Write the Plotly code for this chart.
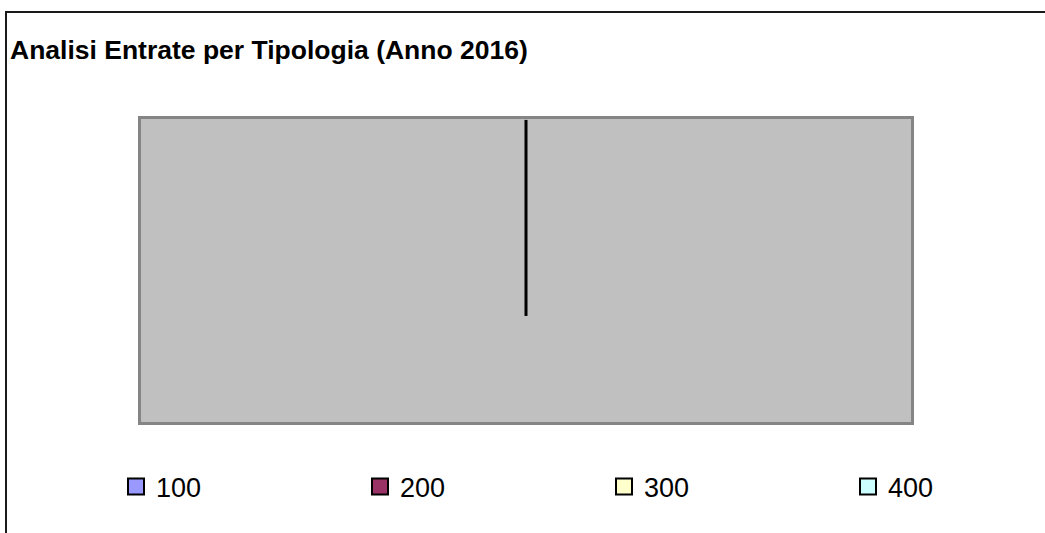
import plotly.graph_objects as go

# Data
categories = ["100", "200", "300", "400"]
values = [0, 0, 0, 0]
colors = ["#9999FF", "#993366", "#FFFFCC", "#CCFFFF"]
title_text = "Analisi Entrate per Tipologia (Anno 2016)"

W, H = 1045, 533
FONT = "Liberation Sans, Arial, sans-serif"

fig = go.Figure()

# radius line of the (empty) pie
fig.add_trace(go.Scatter(
    x=[0.5, 0.5], y=[0.35, 0.997], mode="lines",
    line=dict(color="#000000", width=3), showlegend=False, hoverinfo="skip"))

legend_names = ["legend", "legend2", "legend3", "legend4"]
for i, (cat, val, col) in enumerate(zip(categories, values, colors)):
    fig.add_trace(go.Scatter(
        x=[None], y=[None], mode="markers", name=cat,
        marker=dict(symbol="square", size=16, color=col,
                    line=dict(color="#000000", width=2)),
        legend=legend_names[i], showlegend=True))

legend_common = dict(
    orientation="h", xanchor="left", yanchor="middle",
    y=1 - 487 / H, bgcolor="rgba(0,0,0,0)", borderwidth=0,
    font=dict(family=FONT, size=27, color="#000000"),
)
layout_legends = {}
for i, ln in enumerate(legend_names):
    text_x = 156 + i * 244
    layout_legends[ln] = dict(legend_common, x=(text_x - 40) / W)

fig.update_layout(
    width=W, height=H,
    margin=dict(l=0, r=0, t=0, b=0),
    paper_bgcolor="#FFFFFF",
    plot_bgcolor="#C0C0C0",
    title=dict(text=title_text, x=10 / W, xanchor="left",
               y=1 - 50 / H, yanchor="middle",
               font=dict(family=FONT, size=26.5, color="#000000", weight="bold")),
    xaxis=dict(domain=[141 / W, 911 / W], range=[0, 1], showgrid=False,
               zeroline=False, showticklabels=False, ticks="",
               showline=True, mirror=True, linecolor="#858585", linewidth=3),
    yaxis=dict(domain=[1 - 422 / H, 1 - 119 / H], range=[0, 1], showgrid=False,
               zeroline=False, showticklabels=False, ticks="",
               showline=True, mirror=True, linecolor="#858585", linewidth=3),
    shapes=[dict(type="rect", xref="paper", yref="paper",
                 x0=6 / W, x1=1.05, y0=-0.05, y1=1 - 12 / H,
                 line=dict(color="#1a1a1a", width=2), fillcolor="rgba(0,0,0,0)",
                 layer="above")],
    **layout_legends,
)

fig.write_html("out.html", config={"displayModeBar": False},
               post_script="document.body.style.margin='0';")
